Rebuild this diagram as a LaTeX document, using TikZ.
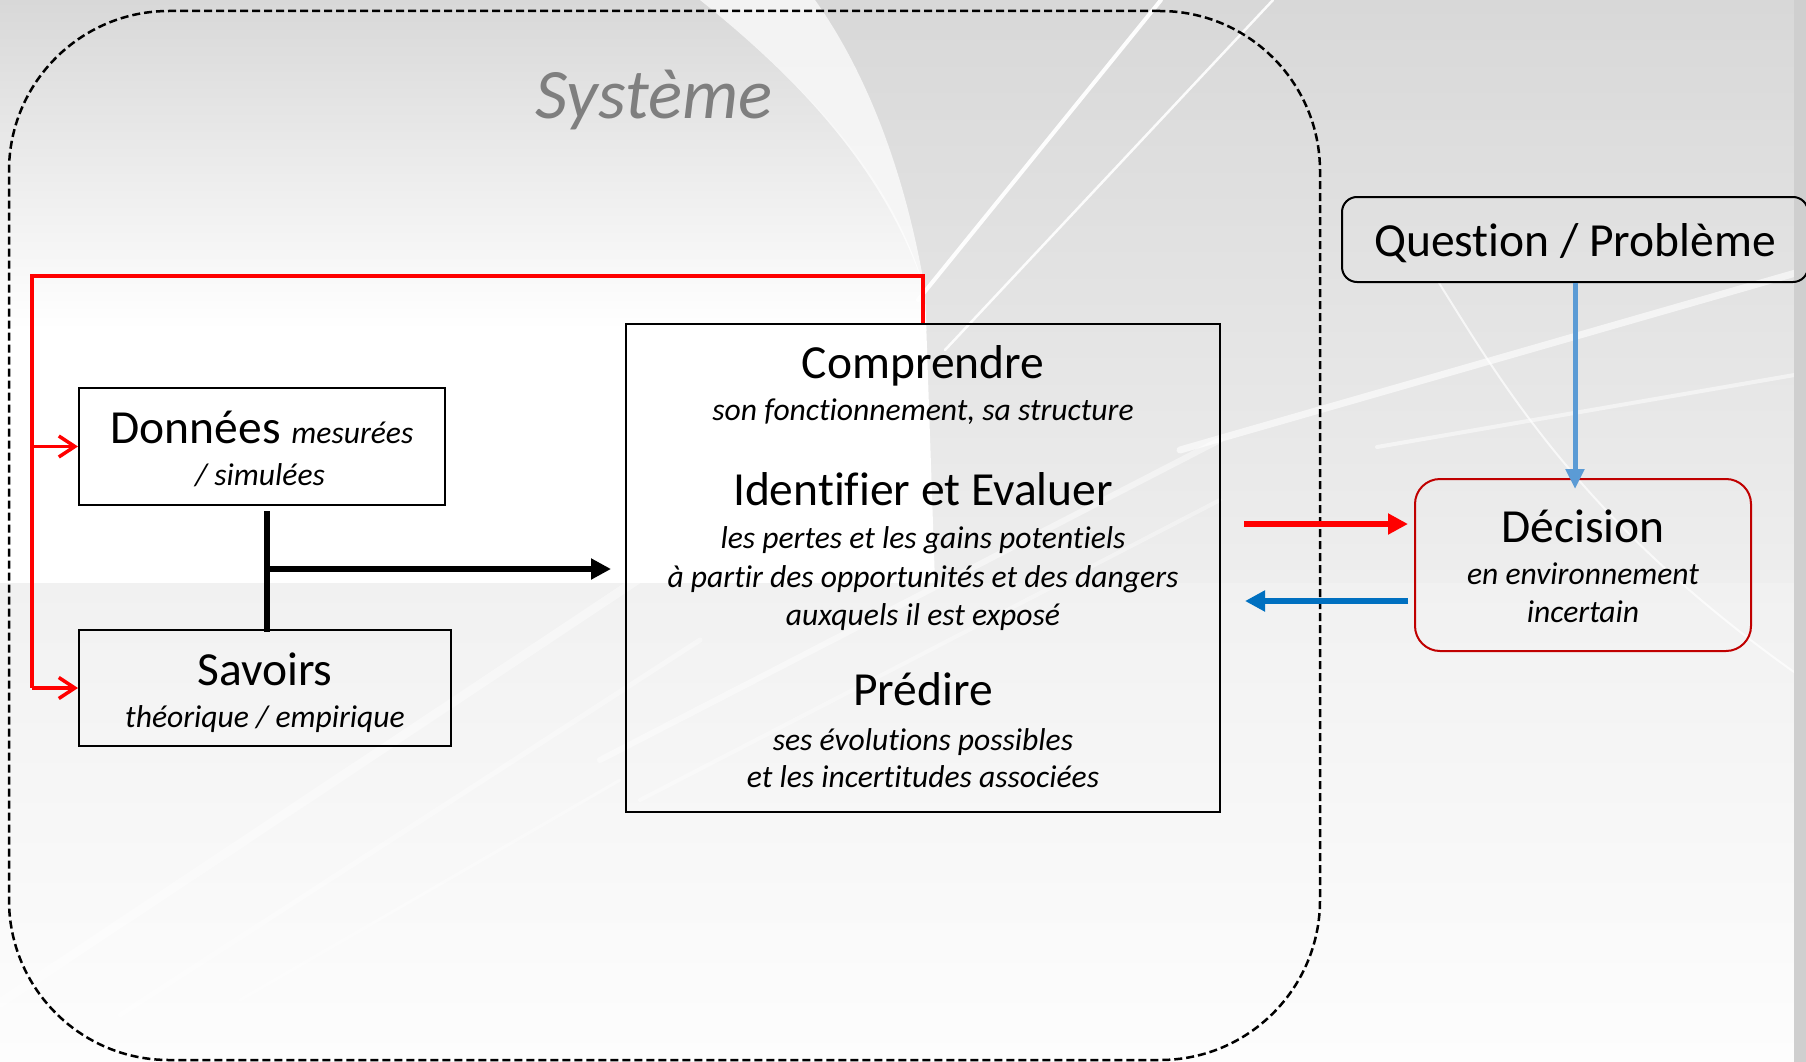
\documentclass[tikz,border=0pt]{standalone}
\usepackage{fontspec}
\setmainfont{Carlito}[Ligatures={NoCommon}]
\usetikzlibrary{arrows.meta}
\definecolor{bgtop}{RGB}{216,216,216}
\definecolor{bgmid}{RGB}{238,238,238}
\definecolor{bglow}{RGB}{241,241,241}
\definecolor{bgbot}{RGB}{253,253,253}
\definecolor{edgegray}{RGB}{207,207,207}
\definecolor{loopred}{RGB}{255,0,0}
\definecolor{decred}{RGB}{192,0,0}
\definecolor{backblue}{RGB}{0,112,192}
\definecolor{qblue}{RGB}{91,155,213}
\definecolor{titlegray}{RGB}{127,127,127}
\newcommand{\headfnt}{\fontsize{47.5pt}{57pt}\selectfont}
\newcommand{\subfnt}{\fontsize{31.6pt}{38pt}\selectfont\itshape}
\begin{document}
\begin{tikzpicture}[x=1pt,y=-1pt,
  frame/.style={draw=black, line width=2pt, rectangle, inner sep=0pt},
  roundframe/.style={frame, rounded corners=#1},
  txt/.style={anchor=base, inner sep=0pt, align=center},
  headtxt/.style={txt, font=\headfnt},
  subtxt/.style={txt, font=\subfnt},
  streak/.style={white, line cap=round, opacity=#1},
  feedback/.style={draw=loopred, line width=3.5pt,
    -{Straight Barb[length=16pt,width=21pt]}},
  feedline/.style={draw=loopred, line width=3.5pt},
  inputarrow/.style={draw=black, line width=6pt,
    -{Triangle[length=20pt,width=20pt]}},
  fatarrow/.style={line width=6pt, -{Triangle[length=20pt,width=20pt]}}]

\useasboundingbox (0,0) rectangle (1806,1062);

% ---------- slide background ----------
\shade[top color=bgtop, bottom color=bgmid] (0,0) rectangle (1806,583);
\shade[top color=bglow, bottom color=bgbot] (0,583) rectangle (1806,1062);
% bright area left of the large swoosh
\begin{scope}
  \clip (0,0) -- (700,0) .. controls (800,80) and (890,170) .. (925,290)
    -- (935,583) -- (0,583) -- cycle;
  \shade[top color=bgtop, bottom color=white] (0,0) rectangle (940,330);
  \fill[white] (0,329) rectangle (940,583);
\end{scope}
% the swoosh itself
\fill[white, opacity=0.7]
  (700,0) .. controls (800,80) and (885,170) .. (925,290)
  .. controls (905,170) and (865,70) .. (815,0) -- cycle;
% thin diagonal lines at the top
\draw[streak=0.95, line width=4pt] (1161,0) -- (918,300);
\draw[streak=0.9, line width=2.5pt] (1273,0) -- (945,350);
% streaks on the right
\draw[streak=0.6, line width=7pt] (1180,450) -- (1806,270);
\draw[streak=0.5, line width=4pt] (1377,447) -- (1806,373);
\draw[streak=0.7, line width=2pt] (1439,283) .. controls (1500,380) and (1580,520) .. (1794,672);
% streaks in the lower half
\draw[streak=0.4, line width=9pt] (0,1003) -- (640,578);
\draw[streak=0.35, line width=5pt] (120,1015) -- (700,640);
\draw[streak=0.45, line width=6pt] (600,760) -- (1220,440);
\draw[streak=0.35, line width=4pt] (640,800) -- (1220,500);
\draw[streak=0.35, line width=3pt] (240,1000) -- (620,780);
% darker strip along the right edge
\fill[edgegray] (1794,0) rectangle (1806,1062);

% ---------- system boundary ----------
\node[draw=black, line width=2.5pt, dash pattern=on 8pt off 4pt,
  rounded corners=160pt, minimum width=1311pt, minimum height=1049pt,
  inner sep=0pt] (sys) at (664.5,535.5) {};
\node[txt, font=\fontsize{71pt}{85pt}\selectfont\itshape, text=titlegray]
  (systitle) at (654,118) {Système};

% ---------- boxes ----------
\node[frame, minimum width=366pt, minimum height=117pt] (donnees) at (262,446.5) {};
\node[frame, minimum width=372pt, minimum height=116pt] (savoirs) at (265,688) {};
\node[frame, minimum width=594pt, minimum height=488pt] (central) at (923,568) {};
\node[roundframe=15pt, minimum width=466pt, minimum height=85pt] (question) at (1575,239.5) {};
\node[roundframe=25pt, draw=decred, minimum width=336pt, minimum height=172pt] (decision) at (1583,565) {};

% ---------- texts ----------
\node[txt] (donL1) at (262,443) {{\headfnt Données\ }{\subfnt mesurées}};
\node[subtxt] (donL2) at (260,485) {/ simulées};
\node[headtxt] (savL1) at (265,685) {Savoirs};
\node[subtxt] (savL2) at (265,727) {théorique / empirique};

\node[headtxt] (cenA) at (923,378) {Comprendre};
\node[subtxt] (cenA1) at (923,420) {son fonctionnement, sa structure};
\node[headtxt] (cenB) at (923,505) {Identifier et Evaluer};
\node[subtxt] (cenB1) at (923,548) {les pertes et les gains potentiels};
\node[subtxt] (cenB2) at (923,587) {à partir des opportunités et des dangers};
\node[subtxt] (cenB3) at (923,625) {auxquels il est exposé};
\node[headtxt] (cenC) at (923,705) {Prédire};
\node[subtxt] (cenC1) at (923,750) {ses évolutions possibles};
\node[subtxt] (cenC2) at (923,787) {et les incertitudes associées};

\node[headtxt] (qtxt) at (1575,256) {Question / Problème};
\node[headtxt] (decA) at (1583,542) {Décision};
\node[subtxt] (decB) at (1583,584) {en environnement};
\node[subtxt] (decC) at (1583,622) {incertain};

% ---------- connectors ----------
% feedback loop from the analysis back to data and knowledge
\coordinate (loopTL) at (32,276);
\draw[feedline] (central.north) |- (loopTL) -- (loopTL |- savoirs.west);
\draw[feedback] (loopTL |- donnees.west) -- (donnees.west);
\draw[feedback] (loopTL |- savoirs.west) -- (savoirs.west);

% data and knowledge feed the analysis
\coordinate (tj) at (267,569);
\draw[draw=black, line width=6pt] ([yshift=-5pt]donnees.south -| tj) -- ([yshift=-3pt]savoirs.north -| tj);
\draw[inputarrow, shorten >=14pt] (tj) -- (tj -| central.west);

% exchange with the decision
\coordinate (rA) at (1244,524);
\coordinate (bA) at (1245,601);
\draw[fatarrow, draw=loopred, fill=loopred, shorten >=6pt] (rA) -- (rA -| decision.west);
\draw[fatarrow, draw=backblue, fill=backblue, shorten <=6pt] (bA -| decision.west) -- (bA);

% the question drives the decision
\draw[draw=qblue, line width=5pt, -{Triangle[length=20pt,width=18pt]}, shorten >=-11pt]
  (question.south) -- (question.south |- decision.north);
\end{tikzpicture}
\end{document}
